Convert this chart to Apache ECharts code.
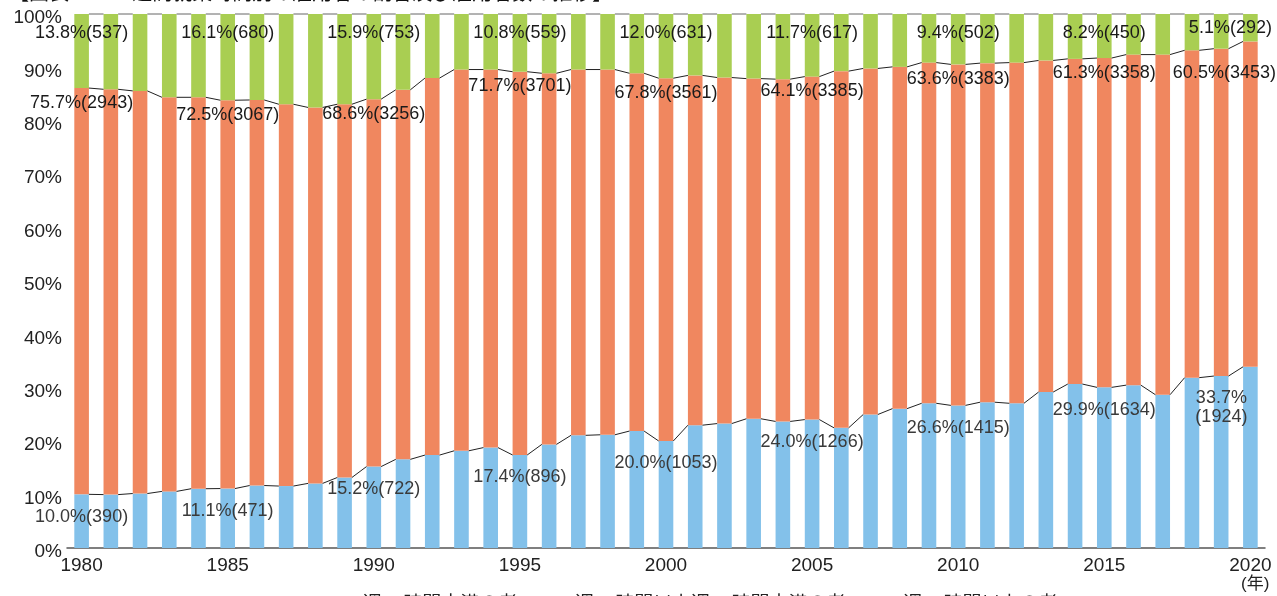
<!DOCTYPE html>
<html>
<head>
<meta charset="utf-8">
<script src="https://cdn.jsdelivr.net/npm/echarts@6/dist/echarts.min.js"></script>
<style>
  html, body { margin: 0; padding: 0; background: #fff; }
  #chart { width: 1277px; height: 596px; }
</style>
</head>
<body>
<div id="chart"></div>
<script>
// Years on the category axis
const years = [];
for (let y = 1980; y <= 2020; y++) years.push(String(y));

// Share of employees (%) by weekly working hours, 1980-2020
const shortPct = [10.0, 10.0, 10.2, 10.6, 11.1, 11.1, 11.7, 11.6, 12.1, 13.2,
                  15.2, 16.6, 17.4, 18.2, 18.8, 17.4, 19.4, 21.1, 21.2, 21.9,
                  20.0, 23.0, 23.3, 24.2, 23.7, 24.0, 22.5, 25.0, 26.1, 27.1,
                  26.6, 27.3, 27.1, 29.2, 30.7, 29.9, 30.5, 28.7, 31.9, 32.2,
                  33.7];
const midPct   = [75.7, 75.9, 75.4, 73.8, 73.3, 72.5, 72.2, 71.5, 70.4, 69.9,
                  68.6, 69.2, 70.6, 71.4, 70.8, 71.7, 69.5, 68.5, 68.4, 67.0,
                  67.8, 65.5, 64.8, 63.7, 64.1, 64.1, 66.8, 64.8, 64.0, 63.8,
                  63.6, 63.5, 63.8, 62.1, 60.9, 61.3, 61.9, 63.7, 61.3, 61.3,
                  60.5];
const longPct  = [13.8, 14.1, 14.4, 15.6, 15.6, 16.1, 16.1, 16.9, 17.5, 16.9,
                  15.9, 14.2, 12.0, 10.4, 10.4, 10.8, 11.1, 10.4, 10.4, 11.1,
                  12.0, 11.5, 11.9, 12.1, 12.2, 11.7, 10.7, 10.2,  9.9,  9.1,
                   9.4,  9.2,  9.1,  8.7,  8.4,  8.2,  7.6,  7.6,  6.8,  6.5,
                   5.1];

// Employees (10 thousand persons) for the labelled years
const labelYears = ['1980', '1985', '1990', '1995', '2000', '2005', '2010', '2015', '2020'];
const shortCount = [390, 471, 722, 896, 1053, 1266, 1415, 1634, 1924];
const midCount   = [2943, 3067, 3256, 3701, 3561, 3385, 3383, 3358, 3453];
const longCount  = [537, 680, 753, 559, 631, 617, 502, 450, 292];

const seriesNames = ['週35時間未満の者', '週35時間以上週60時間未満の者', '週60時間以上の者'];
const colors = ['#83c1ea', '#f0875f', '#a9ce52'];

const FONT = "'Liberation Sans', 'Noto Sans CJK JP', sans-serif";
const lastIdx = years.length - 1;

// Each bar is drawn as the share of the three groups, stacked to 100%
const totals = years.map((_, i) => shortPct[i] + midPct[i] + longPct[i]);
const norm = arr => arr.map((v, i) => v / totals[i] * 100);
const shortShare = norm(shortPct);
const midShare = norm(midPct);
const longShare = norm(longPct);

const lvlShort = shortShare;
const lvlMid = shortShare.map((v, i) => v + midShare[i]);
const lvlTop = lvlMid.map((v, i) => v + longShare[i]);

function barData(share, pct, counts, labelCfg) {
  return share.map((v, i) => {
    const k = labelYears.indexOf(years[i]);
    const item = { value: v };
    if (k >= 0) {
      const cfg = labelCfg(i);
      const text = pct[i].toFixed(1) + '%' + (cfg.split ? '\n' : '') + '(' + counts[k] + ')';
      item.label = Object.assign({ show: true, formatter: text }, cfg.style);
    }
    return item;
  });
}

const labelBase = {
  position: 'insideTop',
  fontFamily: FONT,
  fontSize: 18,
  lineHeight: 19
};

// Thin connector segments between neighbouring bar tops
function seriesLine(levels, color) {
  return {
    type: 'custom',
    silent: true,
    z: 5,
    data: levels.slice(0, -1).map((v, i) => [i, v, levels[i + 1]]),
    encode: { x: 0, y: 1 },
    renderItem: (params, api) => {
      const i = api.value(0);
      const a = api.coord([i, api.value(1)]);
      const b = api.coord([i + 1, api.value(2)]);
      const half = api.size([1, 0])[0] * 0.25;
      return {
        type: 'line',
        shape: { x1: a[0] + half, y1: a[1], x2: b[0] - half, y2: b[1] },
        style: { stroke: color, lineWidth: 1 }
      };
    }
  };
}

const chart = echarts.init(document.getElementById('chart'), null, { renderer: 'canvas' });

chart.setOption({
  animation: false,
  backgroundColor: '#fff',
  textStyle: { fontFamily: FONT },
  title: {
    text: '【図表1-1-10 週間就業時間別の雇用者の割合及び雇用者数の推移】',
    left: 4,
    top: -21,
    textStyle: { fontFamily: FONT, fontSize: 20, fontWeight: 'normal', color: '#111' }
  },
  grid: { left: 67, right: 12, top: 14, bottom: 48 },
  legend: {
    data: seriesNames,
    left: 338,
    top: 590,
    icon: 'rect',
    itemWidth: 15,
    itemHeight: 15,
    itemGap: 38,
    textStyle: { fontFamily: FONT, fontSize: 19, color: '#222' }
  },
  xAxis: {
    type: 'category',
    data: years,
    boundaryGap: true,
    axisLine: { lineStyle: { color: '#555', width: 1.5 } },
    axisTick: { show: false },
    axisLabel: { interval: 4, margin: 8, fontFamily: FONT, fontSize: 19, color: '#222' }
  },
  yAxis: {
    type: 'value',
    min: 0,
    max: 100,
    interval: 10,
    axisLine: { show: false },
    axisTick: { show: false },
    splitLine: { show: false },
    axisLabel: {
      formatter: '{value}%',
      margin: 5,
      verticalAlign: 'top',
      lineHeight: 8,
      fontFamily: FONT,
      fontSize: 19,
      color: '#222'
    }
  },
  graphic: [{
    type: 'text',
    left: 1241,
    top: 576,
    style: { text: '(年)', fontFamily: FONT, fontSize: 17, fill: '#222' }
  }],
  series: [
    {
      name: seriesNames[0],
      type: 'bar',
      stack: 'total',
      barWidth: '50%',
      itemStyle: { color: colors[0] },
      data: barData(shortShare, shortPct, shortCount, i => ({
        split: i === lastIdx,
        style: Object.assign({}, labelBase, {
          color: '#3a3a3a',
          distance: i === lastIdx ? 22 : 13,
          offset: i === lastIdx ? [-29, 0] : [0, 0]
        })
      }))
    },
    {
      name: seriesNames[1],
      type: 'bar',
      stack: 'total',
      barWidth: '50%',
      itemStyle: { color: colors[1] },
      data: barData(midShare, midPct, midCount, i => ({
        split: false,
        style: Object.assign({}, labelBase, {
          color: '#1a1a1a',
          distance: i === lastIdx ? 22 : 5,
          offset: i === lastIdx ? [-26, 0] : [0, 0]
        })
      }))
    },
    {
      name: seriesNames[2],
      type: 'bar',
      stack: 'total',
      barWidth: '50%',
      itemStyle: { color: colors[2] },
      data: barData(longShare, longPct, longCount, i => ({
        split: false,
        style: Object.assign({}, labelBase, {
          color: '#1a1a1a',
          distance: i === lastIdx ? 5 : 10,
          offset: i === lastIdx ? [-20, 0] : [0, 0]
        })
      }))
    },
    seriesLine(lvlShort, '#222'),
    seriesLine(lvlMid, '#222'),
    seriesLine(lvlTop, '#666')
  ]
});
</script>
</body>
</html>
